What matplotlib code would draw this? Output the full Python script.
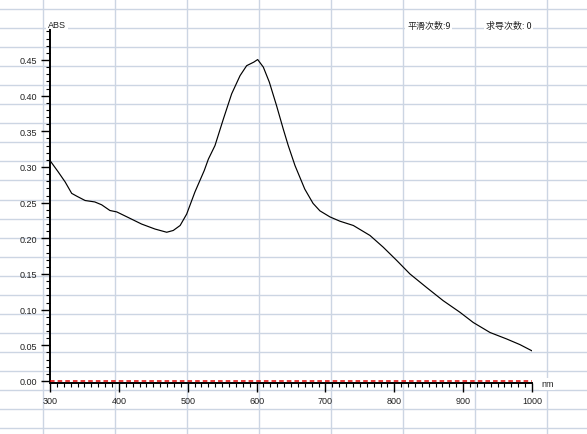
import matplotlib
matplotlib.use("Agg")
import matplotlib.pyplot as plt
from matplotlib.ticker import MultipleLocator, FormatStrFormatter
import numpy as np

# ---- data ----
wavelength_nm = [300, 312, 322, 331.5, 339, 351, 365, 375, 387, 397, 414, 433, 452.5,
                 469.5, 479, 489, 498.5, 510.5, 524, 530, 539.6, 551.7, 563.8, 576,
                 585.6, 596, 601.6, 609.8, 618.5, 629, 638.8, 646, 655.8, 670, 682,
                 692, 706.6, 721, 740.5, 764.7, 784, 803.5, 822.8, 847, 871, 895.4,
                 914.7, 939, 963, 982.5, 999.5]
absorbance = [0.309, 0.293, 0.279, 0.263, 0.259, 0.253, 0.251, 0.247, 0.239, 0.237,
              0.229, 0.220, 0.213, 0.2085, 0.211, 0.218, 0.234, 0.265, 0.295, 0.311,
              0.330, 0.367, 0.4025, 0.428, 0.442, 0.447, 0.4506, 0.440, 0.419, 0.386,
              0.353, 0.330, 0.302, 0.269, 0.249, 0.2385, 0.230, 0.224, 0.218, 0.204,
              0.1875, 0.169, 0.150, 0.131, 0.1126, 0.0963, 0.082, 0.068, 0.059, 0.051,
              0.0425]
baseline_nm = [300, 1000]
baseline_abs = [0.0, 0.0]

x_label = "nm"
y_label = "ABS"
smooth_text = "平滑次数:9"
deriv_text = "求导次数: 0"

W, H, DPI = 587, 435, 100
fig = plt.figure(figsize=(W / DPI, H / DPI), dpi=DPI)
fig.patch.set_facecolor("white")

# background page grid (pixel coordinates)
bg = fig.add_axes([0, 0, 1, 1], zorder=0)
bg.set_xlim(0, W)
bg.set_ylim(H, 0)
bg.axis("off")
grid_col = "#ccd5e3"
for gx in np.arange(43, W, 72):
    bg.axvline(gx, color=grid_col, lw=1.0, zorder=0)
for gy in np.arange(10, H, 19.05):
    bg.axhline(gy, color=grid_col, lw=1.0, zorder=0)

txt_kw = dict(fontsize=6.5, color="#222222", va="center",
              bbox=dict(facecolor="white", edgecolor="none", pad=1.2))
bg.text(48, 26, y_label, ha="left", family=["Liberation Sans"], **txt_kw)
bg.text(407, 26, smooth_text, ha="left",
        family=["Noto Sans CJK SC", "DejaVu Sans"], **txt_kw)
bg.text(486, 26, deriv_text, ha="left",
        family=["Noto Sans CJK SC", "DejaVu Sans"], **txt_kw)
bg.text(541, 385, x_label, ha="left", family=["Liberation Sans"], **txt_kw)

# main axes
left, right = 50 / W, 532 / W
bottom, top = (H - 382) / H, (H - 31) / H
ax = fig.add_axes([left, bottom, right - left, top - bottom], zorder=2)
ax.set_facecolor("none")
ax.set_xlim(300, 1000)
ax.set_ylim(0, 0.492)

ax.plot(wavelength_nm, absorbance, color="black", lw=0.85, zorder=3)
ax.plot(baseline_nm, baseline_abs, color="#e00000", lw=1.1, ls=(0, (3, 2)),
        zorder=4, clip_on=False)

for s in ["top", "right"]:
    ax.spines[s].set_visible(False)
for s in ["left", "bottom"]:
    ax.spines[s].set_linewidth(1.4)
    ax.spines[s].set_color("black")
ax.spines["bottom"].set_position(("outward", 1.6))

ax.xaxis.set_major_locator(MultipleLocator(100))
ax.xaxis.set_minor_locator(MultipleLocator(10))
ax.yaxis.set_major_locator(MultipleLocator(0.05))
ax.yaxis.set_minor_locator(MultipleLocator(0.01))
ax.yaxis.set_major_formatter(FormatStrFormatter("%.2f"))

ax.tick_params(axis="both", which="major", direction="out", length=6.5,
               width=1.0, color="black", labelsize=6.5, labelcolor="#222222", pad=3)
ax.tick_params(axis="both", which="minor", direction="out", length=3.2,
               width=0.8, color="black")
for lab in ax.get_xticklabels() + ax.get_yticklabels():
    lab.set_family("Liberation Sans")

fig.savefig("out.png", dpi=DPI, facecolor="white")
